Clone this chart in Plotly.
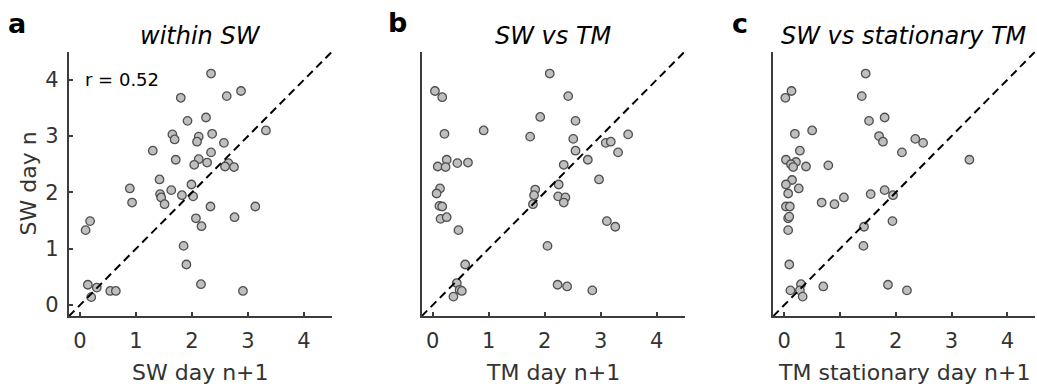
import plotly.graph_objects as go

# ---- data: SW on day n (y) against the day n+1 measure (x) ----
sw_next = [2.34, 1.80, 2.62, 2.875, 1.92, 2.25, 3.32, 1.65, 1.69, 2.12, 2.09, 2.36, 2.57,
           1.30, 2.34, 1.71, 2.12, 2.27, 2.04, 2.65, 2.59, 2.75, 1.42, 1.99, 0.89,
           1.63, 1.43, 1.45, 1.82, 2.02, 0.93, 1.51, 2.33, 3.13, 2.07, 2.17, 2.76,
           0.18, 0.10, 1.85, 1.90, 0.14, 0.30, 0.20, 0.54, 0.64, 2.16, 2.91]
sw_day_a = [4.11, 3.68, 3.71, 3.80, 3.27, 3.33, 3.10, 3.03, 2.94, 2.99, 2.90, 3.04, 2.88,
            2.74, 2.71, 2.58, 2.59, 2.53, 2.49, 2.52, 2.46, 2.45, 2.23, 2.14, 2.07,
            2.04, 1.97, 1.91, 1.95, 1.93, 1.82, 1.79, 1.75, 1.75, 1.54, 1.40, 1.56,
            1.49, 1.33, 1.05, 0.72, 0.36, 0.31, 0.14, 0.25, 0.25, 0.37, 0.25]

tm_next = [2.09, 0.04, 0.17, 2.42, 1.92, 2.55, 0.21, 0.91, 1.74, 2.51, 3.49, 3.09, 3.18,
           2.55, 3.31, 2.77, 0.25, 0.44, 0.63, 0.09, 0.23, 2.34, 2.97, 0.13, 0.07,
           1.83, 2.25, 1.81, 1.79, 2.24, 2.37, 2.34, 0.12, 0.17, 0.14, 0.25, 0.46,
           3.11, 3.26, 2.05, 0.58, 0.43, 0.48, 0.52, 0.37, 2.23, 2.40, 2.85]
sw_day_b = [4.11, 3.80, 3.69, 3.71, 3.34, 3.27, 3.04, 3.10, 2.99, 2.95, 3.03, 2.88, 2.90,
            2.74, 2.71, 2.58, 2.58, 2.52, 2.53, 2.46, 2.45, 2.49, 2.23, 2.07, 1.98,
            2.05, 2.14, 1.95, 1.79, 1.93, 1.91, 1.82, 1.76, 1.75, 1.53, 1.56, 1.33,
            1.49, 1.39, 1.05, 0.72, 0.39, 0.27, 0.25, 0.15, 0.36, 0.33, 0.26]

tm_stat_next = [1.46, 0.13, 0.02, 1.39, 1.52, 1.80, 0.19, 0.50, 1.70, 1.77, 2.35, 2.49,
                0.28, 2.11, 3.32, 0.03, 0.21, 0.12, 0.16, 0.39, 0.79, 0.14, 0.03, 0.26,
                0.07, 1.55, 1.80, 1.95, 0.67, 0.90, 1.07, 0.03, 0.10, 0.07, 0.09, 0.07,
                1.94, 1.43, 1.42, 0.09, 0.30, 0.11, 0.28, 0.33, 0.70, 1.86, 2.20]
sw_day_c = [4.11, 3.80, 3.68, 3.71, 3.27, 3.33, 3.04, 3.10, 3.00, 2.90, 2.95, 2.88,
            2.74, 2.71, 2.58, 2.58, 2.54, 2.50, 2.45, 2.46, 2.48, 2.22, 2.14, 2.07,
            1.98, 1.97, 2.04, 1.95, 1.82, 1.79, 1.91, 1.75, 1.75, 1.54, 1.57, 1.33,
            1.49, 1.39, 1.05, 0.72, 0.37, 0.26, 0.26, 0.15, 0.33, 0.36, 0.26]

r_value = 0.52
tick_vals = [0, 1, 2, 3, 4]

panels = [
    ("a", "within SW", "SW day n+1", sw_next, sw_day_a),
    ("b", "SW vs TM", "TM day n+1", tm_next, sw_day_b),
    ("c", "SW vs stationary TM", "TM stationary day n+1", tm_stat_next, sw_day_c),
]

# ---- layout geometry (pixels) ----
W, H = 1037, 389
AX_RANGE = [-0.2, 4.5]
x_px = [(68.8, 332.0), (421.5, 684.7), (773.1, 1035.2)]
y_top_px, y_bot_px = 51.6, 316.3

FONT = "DejaVu Sans"
AX_COL = "#3c3c3c"
TXT_COL = "#333333"


def px_x(v):
    return v / W


def px_y(v):
    return 1 - v / H


fig = go.Figure()
annotations = []

for i, (letter, title, xlabel, xs, ys) in enumerate(panels):
    n = "" if i == 0 else str(i + 1)
    xa, ya = "x" + n, "y" + n
    fig.add_trace(go.Scatter(
        x=xs, y=ys, mode="markers", xaxis=xa, yaxis=ya, showlegend=False,
        marker=dict(size=8.5, color="#bfbfbf", line=dict(color="#505050", width=1.3)),
    ))
    # unity line across the whole axis range, drawn above the points
    fig.add_trace(go.Scatter(
        x=AX_RANGE, y=AX_RANGE, mode="lines", xaxis=xa, yaxis=ya, showlegend=False,
        line=dict(color="black", width=2, dash="8px,5px"), cliponaxis=True,
    ))

    x0, x1 = x_px[i]
    axis_common = dict(
        range=AX_RANGE, showgrid=False, zeroline=False, showline=True,
        linecolor=AX_COL, linewidth=2, ticks="inside", ticklen=4, tickwidth=1.5,
        tickcolor=AX_COL, tickvals=tick_vals,
        tickfont=dict(family=FONT, size=21, color=TXT_COL),
    )
    fig.layout["xaxis" + n] = dict(
        axis_common, domain=[px_x(x0), px_x(x1)], anchor=ya, ticklabelstandoff=4,
    )
    ycfg = dict(axis_common, domain=[px_y(y_bot_px), px_y(y_top_px)], anchor=xa,
                ticklabelstandoff=4)
    if i > 0:
        ycfg.update(ticks="", showticklabels=False)
    fig.layout["yaxis" + n] = ycfg

    cx = (x0 + x1) / 2
    annotations.append(dict(
        text=title, x=px_x(cx), y=px_y(36), xref="paper", yref="paper",
        showarrow=False, xanchor="center", yanchor="middle",
        font=dict(family=FONT, size=24, color="black", style="italic"),
    ))
    annotations.append(dict(
        text=xlabel, x=px_x(cx), y=px_y(372), xref="paper", yref="paper",
        showarrow=False, xanchor="center", yanchor="middle",
        font=dict(family=FONT, size=22, color=TXT_COL),
    ))

letter_pos = [(17, 24), (397.5, 22), (739.5, 24)]
for (letter, *_), (lx, ly) in zip(panels, letter_pos):
    annotations.append(dict(
        text=f"<b>{letter}</b>", x=px_x(lx), y=px_y(ly), xref="paper", yref="paper",
        showarrow=False, xanchor="center", yanchor="middle",
        font=dict(family=FONT, size=27, color="black"),
    ))

annotations.append(dict(
    text="SW day n", x=px_x(27.5), y=px_y(184), xref="paper", yref="paper",
    showarrow=False, textangle=-90, xanchor="center", yanchor="middle",
    font=dict(family=FONT, size=22, color=TXT_COL),
))
annotations.append(dict(
    text=f"r = {r_value:.2f}", x=0.05, y=4.0, xref="x", yref="y",
    showarrow=False, xanchor="left", yanchor="middle",
    font=dict(family=FONT, size=18, color="black"),
))

fig.update_layout(
    width=W, height=H, margin=dict(l=0, r=0, t=0, b=0),
    paper_bgcolor="white", plot_bgcolor="white",
    annotations=annotations,
)

fig.write_html("out.html")
